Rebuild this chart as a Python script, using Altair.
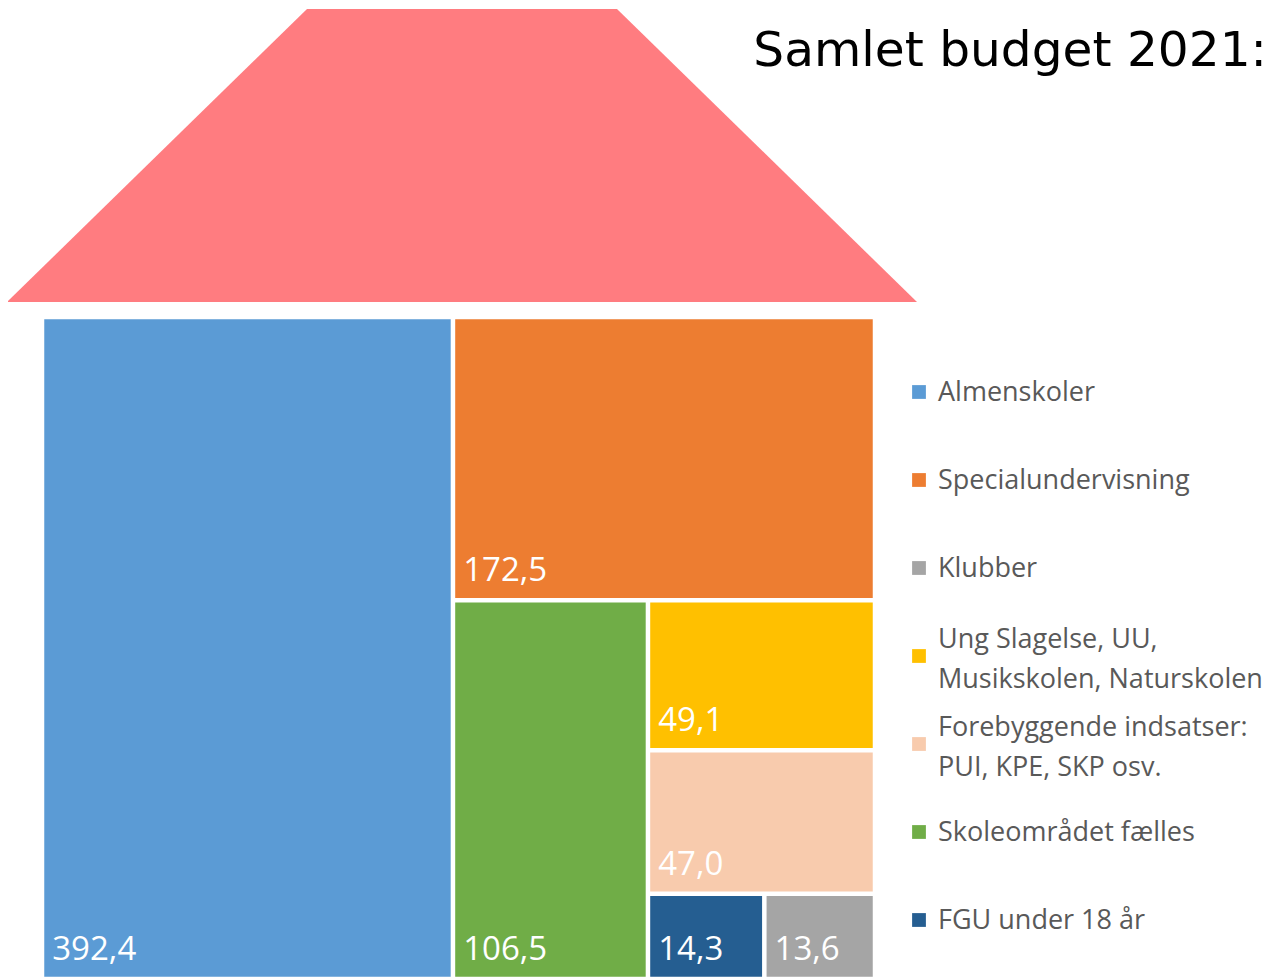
import altair as alt
import pandas as pd

# ---------------- data ----------------
categories = [
    "Almenskoler",
    "Specialundervisning",
    "Klubber",
    "Ung Slagelse, UU,\nMusikskolen, Naturskolen",
    "Forebyggende indsatser:\nPUI, KPE, SKP osv.",
    "Skoleområdet fælles",
    "FGU under 18 år",
]
values = [392.4, 172.5, 13.6, 49.1, 47.0, 106.5, 14.3]
colors = ["#5B9BD5", "#ED7D31", "#A5A5A5", "#FFC000", "#F8CBAD", "#70AD47", "#255E91"]
title_text = "Samlet budget 2021:"

# ---------------- layout (pixel-like data units) ----------------
W, H = 1260, 969
X0, Y0 = 8, 8
xs = alt.Scale(domain=[X0, X0 + W], nice=False, zero=False)
ys = alt.Scale(domain=[Y0, Y0 + H], nice=False, zero=False, reverse=True)

BOX_X, BOX_Y, BOX_W, BOX_H = 42.0, 317.0, 833.0, 662.0
GAP = 4.5
LEG_LINE_H = 40


def worst(row, side):
    s = sum(row)
    return max(max(side * side * r / (s * s), (s * s) / (side * side * r)) for r in row)


def squarify(vals, x, y, w, h):
    total = sum(vals)
    areas = [v * w * h / total for v in vals]
    out = []
    while areas:
        side = min(w, h)
        row = [areas[0]]
        i = 1
        while i < len(areas) and worst(row + [areas[i]], side) <= worst(row, side):
            row.append(areas[i])
            i += 1
        s = sum(row)
        if w >= h:
            cw = s / h
            yy = y
            for a in row:
                rh = a / cw
                out.append((x, yy, cw, rh))
                yy += rh
            x += cw
            w -= cw
        else:
            rh = s / w
            xx = x
            for a in row:
                rw = a / rh
                out.append((xx, y, rw, rh))
                xx += rw
            y += rh
            h -= rh
        areas = areas[i:]
    return out


order = sorted(range(len(values)), key=lambda i: -values[i])
rects = squarify([values[i] for i in order], BOX_X, BOX_Y, BOX_W, BOX_H)
rows = []
for idx, (rx, ry, rw, rh) in zip(order, rects):
    rows.append({
        "cat": categories[idx],
        "value": values[idx],
        "label": f"{values[idx]:.1f}".replace(".", ","),
        "x": rx + GAP / 2, "x2": rx + rw - GAP / 2,
        "y": ry + GAP / 2, "y2": ry + rh - GAP / 2,
    })
tiles_df = pd.DataFrame(rows)

roof_df = pd.DataFrame({"x": [7, 307, 617, 917], "y": [302, 9, 9, 302], "y2": [302] * 4})

leg_y = [392 + 88 * i for i in range(len(categories))]
legend_df = pd.DataFrame({
    "cat": categories,
    "y": leg_y,
    "ty": [y - (c.count("\n")) * (LEG_LINE_H / 2 - 3) + 1 for y, c in zip(leg_y, categories)],
})

title_df = pd.DataFrame({"t": [title_text], "x": [1267], "y": [66]})

# ---------------- charts ----------------
color = alt.Color("cat:N", scale=alt.Scale(domain=categories, range=colors), legend=None)

roof = alt.Chart(roof_df).mark_area(color="#FF7C80", interpolate="linear").encode(
    x=alt.X("x:Q", scale=xs, axis=None),
    y=alt.Y("y:Q", scale=ys, axis=None),
    y2="y2:Q",
)

tiles = alt.Chart(tiles_df).mark_rect(clip=True).encode(
    x=alt.X("x:Q", scale=xs, axis=None),
    x2="x2:Q",
    y=alt.Y("y:Q", scale=ys, axis=None),
    y2="y2:Q",
    color=color,
)

tile_labels = alt.Chart(tiles_df).mark_text(
    align="left", baseline="alphabetic", dx=8, dy=-17,
    font="Open Sans", fontSize=33, color="white", clip=True,
).encode(
    x=alt.X("x:Q", scale=xs, axis=None),
    y=alt.Y("y2:Q", scale=ys, axis=None),
    text="label:N",
)

title = alt.Chart(title_df).mark_text(
    align="right", baseline="alphabetic", font="DejaVu Sans", fontSize=48.6, color="black",
).encode(
    x=alt.X("x:Q", scale=xs, axis=None),
    y=alt.Y("y:Q", scale=ys, axis=None),
    text="t:N",
)

legend_sym = alt.Chart(legend_df).mark_square(size=190, opacity=1, filled=True).encode(
    x=alt.datum(919, scale=xs),
    y=alt.Y("y:Q", scale=ys, axis=None),
    color=color,
)

legend_txt = alt.Chart(legend_df).mark_text(
    align="left", baseline="middle", font="Open Sans", fontSize=27,
    color="#595959", lineBreak="\n", lineHeight=LEG_LINE_H,
).encode(
    x=alt.datum(938, scale=xs),
    y=alt.Y("ty:Q", scale=ys, axis=None),
    text="cat:N",
)

chart = alt.layer(roof, tiles, tile_labels, title, legend_sym, legend_txt).properties(
    width=W, height=H, padding=0, autosize="none",
).configure_view(stroke=None)

chart.save("out.html", embed_options={"renderer": "svg", "actions": False})
